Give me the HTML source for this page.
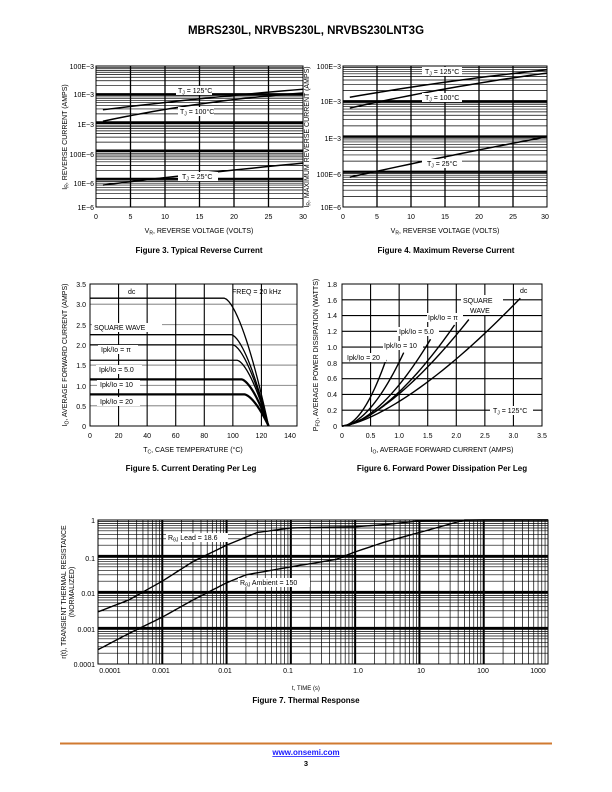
<!DOCTYPE html>
<html><head><meta charset="utf-8">
<style>
html,body{margin:0;padding:0;background:#fff;}
svg{display:block;font-family:"Liberation Sans",Arial,sans-serif;}
.t{font-size:7px;fill:#000;}
.c{font-size:8px;font-weight:bold;fill:#000;}
</style></head>
<body>
<svg id="s" width="612" height="792" viewBox="0 0 612 792" xmlns="http://www.w3.org/2000/svg">
<text x="306" y="34" text-anchor="middle" style="font-size:11.5px;font-weight:bold">MBRS230L, NRVBS230L, NRVBS230LNT3G</text>
<g id="g"></g>
<g id="labels">
<!-- Fig 3 -->
<g class="t" text-anchor="end">
<text x="94" y="69">100E−3</text><text x="94" y="97">10E−3</text><text x="94" y="127">1E−3</text>
<text x="94" y="157">100E−6</text><text x="94" y="186">10E−6</text><text x="94" y="210">1E−6</text>
</g>
<g class="t" text-anchor="middle">
<text x="96" y="219">0</text><text x="130.5" y="219">5</text><text x="165" y="219">10</text><text x="199.5" y="219">15</text><text x="234" y="219">20</text><text x="268.5" y="219">25</text><text x="303" y="219">30</text>
<text x="199" y="233">V<tspan style="font-size:5px" dy="1.5">R</tspan><tspan dy="-1.5">, REVERSE VOLTAGE (VOLTS)</tspan></text>
</g>
<text class="t" transform="translate(67,137) rotate(-90)" text-anchor="middle">I<tspan style="font-size:5px" dy="1.5">R</tspan><tspan dy="-1.5">, REVERSE CURRENT (AMPS)</tspan></text>
<rect x="176" y="86" width="36" height="9" fill="#fff"/><text class="t" x="178" y="93">T<tspan style="font-size:5px" dy="1.5">J</tspan><tspan dy="-1.5"> = 125°C</tspan></text>
<rect x="178" y="107" width="36" height="9" fill="#fff"/><text class="t" x="180" y="114">T<tspan style="font-size:5px" dy="1.5">J</tspan><tspan dy="-1.5"> = 100°C</tspan></text>
<rect x="178" y="172" width="40" height="9" fill="#fff"/><text class="t" x="182" y="179">T<tspan style="font-size:5px" dy="1.5">J</tspan><tspan dy="-1.5"> = 25°C</tspan></text>
<text class="c" x="199" y="253" text-anchor="middle">Figure 3. Typical Reverse Current</text>
<!-- Fig 4 -->
<g class="t" text-anchor="end">
<text x="341" y="69">100E−3</text><text x="341" y="104">10E−3</text><text x="341" y="141">1E−3</text>
<text x="341" y="177">100E−6</text><text x="341" y="210">10E−6</text>
</g>
<g class="t" text-anchor="middle">
<text x="343" y="219">0</text><text x="377" y="219">5</text><text x="411" y="219">10</text><text x="445" y="219">15</text><text x="479" y="219">20</text><text x="513" y="219">25</text><text x="545" y="219">30</text>
<text x="445" y="233">V<tspan style="font-size:5px" dy="1.5">R</tspan><tspan dy="-1.5">, REVERSE VOLTAGE (VOLTS)</tspan></text>
</g>
<text class="t" transform="translate(309,137) rotate(-90)" text-anchor="middle">I<tspan style="font-size:5px" dy="1.5">R</tspan><tspan dy="-1.5">, MAXIMUM REVERSE CURRENT (AMPS)</tspan></text>
<rect x="422" y="67" width="40" height="9" fill="#fff"/><text class="t" x="425" y="74">T<tspan style="font-size:5px" dy="1.5">J</tspan><tspan dy="-1.5"> = 125°C</tspan></text>
<rect x="422" y="93" width="40" height="9" fill="#fff"/><text class="t" x="425" y="100">T<tspan style="font-size:5px" dy="1.5">J</tspan><tspan dy="-1.5"> = 100°C</tspan></text>
<rect x="422" y="159" width="40" height="9" fill="#fff"/><text class="t" x="427" y="166">T<tspan style="font-size:5px" dy="1.5">J</tspan><tspan dy="-1.5"> = 25°C</tspan></text>
<text class="c" x="446" y="253" text-anchor="middle">Figure 4. Maximum Reverse Current</text>
<!-- Fig 5 -->
<g class="t" text-anchor="end">
<text x="86" y="287">3.5</text><text x="86" y="307">3.0</text><text x="86" y="328">2.5</text><text x="86" y="348">2.0</text>
<text x="86" y="368">1.5</text><text x="86" y="389">1.0</text><text x="86" y="409">0.5</text><text x="86" y="429">0</text>
</g>
<g class="t" text-anchor="middle">
<text x="90" y="438">0</text><text x="118.6" y="438">20</text><text x="147.1" y="438">40</text><text x="175.7" y="438">60</text><text x="204.3" y="438">80</text><text x="232.9" y="438">100</text><text x="261.4" y="438">120</text><text x="290" y="438">140</text>
<text x="193" y="452">T<tspan style="font-size:5px" dy="1.5">C</tspan><tspan dy="-1.5">, CASE TEMPERATURE (°C)</tspan></text>
</g>
<text class="t" transform="translate(67,355) rotate(-90)" text-anchor="middle">I<tspan style="font-size:5px" dy="1.5">O</tspan><tspan dy="-1.5">, AVERAGE FORWARD CURRENT (AMPS)</tspan></text>
<text class="t" x="128" y="294">dc</text>
<text class="t" x="232" y="294">FREQ = 20 kHz</text>
<rect x="92" y="323" width="70" height="9" fill="#fff"/><text class="t" x="94" y="330">SQUARE WAVE</text>
<rect x="98" y="345" width="40" height="9" fill="#fff"/><text class="t" x="101" y="352">Ipk/Io = π</text>
<rect x="96" y="365" width="46" height="9" fill="#fff"/><text class="t" x="99" y="372">Ipk/Io = 5.0</text>
<rect x="97" y="380" width="43" height="9" fill="#fff"/><text class="t" x="100" y="387">Ipk/Io = 10</text>
<rect x="97" y="397" width="43" height="9" fill="#fff"/><text class="t" x="100" y="404">Ipk/Io = 20</text>
<text class="c" x="191" y="471" text-anchor="middle">Figure 5. Current Derating Per Leg</text>
<!-- Fig 6 -->
<g class="t" text-anchor="end">
<text x="337" y="287">1.8</text><text x="337" y="303">1.6</text><text x="337" y="318">1.4</text><text x="337" y="334">1.2</text><text x="337" y="350">1.0</text>
<text x="337" y="366">0.8</text><text x="337" y="381">0.6</text><text x="337" y="397">0.4</text><text x="337" y="413">0.2</text><text x="337" y="429">0</text>
</g>
<g class="t" text-anchor="middle">
<text x="342" y="438">0</text><text x="370.6" y="438">0.5</text><text x="399.1" y="438">1.0</text><text x="427.7" y="438">1.5</text><text x="456.3" y="438">2.0</text><text x="484.9" y="438">2.5</text><text x="513.4" y="438">3.0</text><text x="542" y="438">3.5</text>
<text x="442" y="452">I<tspan style="font-size:5px" dy="1.5">O</tspan><tspan dy="-1.5">, AVERAGE FORWARD CURRENT (AMPS)</tspan></text>
</g>
<text class="t" transform="translate(318,355) rotate(-90)" text-anchor="middle">P<tspan style="font-size:5px" dy="1.5">FO</tspan><tspan dy="-1.5">, AVERAGE POWER DISSIPATION (WATTS)</tspan></text>
<rect x="519" y="286" width="12" height="9" fill="#fff"/><text class="t" x="520" y="293">dc</text>
<rect x="461" y="295" width="42" height="20" fill="#fff"/><text class="t" x="463" y="303">SQUARE</text><text class="t" x="470" y="313">WAVE</text>
<rect x="427" y="313" width="36" height="9" fill="#fff"/><text class="t" x="428" y="320">Ipk/Io = π</text>
<rect x="397" y="327" width="42" height="9" fill="#fff"/><text class="t" x="399" y="334">Ipk/Io = 5.0</text>
<rect x="383" y="341" width="40" height="9" fill="#fff"/><text class="t" x="384" y="348">Ipk/Io = 10</text>
<rect x="346" y="353" width="40" height="9" fill="#fff"/><text class="t" x="347" y="360">Ipk/Io = 20</text>
<rect x="490" y="406" width="43" height="9" fill="#fff"/><text class="t" x="493" y="413">T<tspan style="font-size:5px" dy="1.5">J</tspan><tspan dy="-1.5"> = 125°C</tspan></text>
<text class="c" x="442" y="471" text-anchor="middle">Figure 6. Forward Power Dissipation Per Leg</text>
<!-- Fig 7 -->
<g class="t" text-anchor="end">
<text x="95" y="523">1</text><text x="95" y="561">0.1</text><text x="95" y="596">0.01</text><text x="95" y="632">0.001</text><text x="95" y="667">0.0001</text>
</g>
<g class="t" text-anchor="middle">
<text x="110" y="673">0.0001</text><text x="161" y="673">0.001</text><text x="225" y="673">0.01</text><text x="288" y="673">0.1</text><text x="358" y="673">1.0</text><text x="421" y="673">10</text><text x="483" y="673">100</text><text x="538" y="673">1000</text>
<text x="306" y="690" style="font-size:6px">t, TIME (s)</text>
</g>
<text class="t" transform="translate(66,592) rotate(-90)" text-anchor="middle">r(t), TRANSIENT THERMAL RESISTANCE</text>
<text class="t" transform="translate(74,592) rotate(-90)" text-anchor="middle">(NORMALIZED)</text>
<rect x="166" y="533" width="62" height="9" fill="#fff"/><text class="t" x="168" y="540">R<tspan style="font-size:5px" dy="1.5">θJ</tspan><tspan dy="-1.5"> Lead = 18.6</tspan></text>
<rect x="238" y="578" width="72" height="9" fill="#fff"/><text class="t" x="240" y="585">R<tspan style="font-size:5px" dy="1.5">θJ</tspan><tspan dy="-1.5"> Ambient = 150</tspan></text>
<text class="c" x="306" y="703" text-anchor="middle">Figure 7. Thermal Response</text>
</g>
<line x1="60" y1="743.5" x2="552" y2="743.5" stroke="#d07a30" stroke-width="2"/>
<text x="306" y="755" text-anchor="middle" style="font-size:8px;font-weight:bold;fill:#1a1aff;text-decoration:underline">www.onsemi.com</text>
<text x="306" y="766" text-anchor="middle" style="font-size:7.5px;font-weight:bold">3</text>
</svg>
<script>
(function(){
var NS="http://www.w3.org/2000/svg",g=document.getElementById("g");
function L(x1,y1,x2,y2,w,c){var e=document.createElementNS(NS,"line");e.setAttribute("x1",x1);e.setAttribute("y1",y1);e.setAttribute("x2",x2);e.setAttribute("y2",y2);e.setAttribute("stroke",c||"#000");e.setAttribute("stroke-width",w);g.appendChild(e);}
function P(pts,w,c){var e=document.createElementNS(NS,"polyline");e.setAttribute("points",pts.map(function(p){return p[0].toFixed(2)+","+p[1].toFixed(2)}).join(" "));e.setAttribute("fill","none");e.setAttribute("stroke",c||"#000");e.setAttribute("stroke-width",w);e.setAttribute("stroke-linejoin","round");g.appendChild(e);}
function R(x,y,w,h){var e=document.createElementNS(NS,"rect");e.setAttribute("x",x);e.setAttribute("y",y);e.setAttribute("width",w);e.setAttribute("height",h);e.setAttribute("fill","none");e.setAttribute("stroke","#000");e.setAttribute("stroke-width",1);g.appendChild(e);}
function logGridY(x0,x1,ybot,dpx,nd){for(var d=0;d<nd;d++){for(var k=1;k<=9;k++){var y=ybot-(d+Math.log10(k))*dpx;L(x0,y,x1,y,k==1&&d>0?2.2:0.7);}}}
// Fig3
var f3x=function(v){return 96+v*207/30},f3y=function(I){return 207-(Math.log10(I)+6)*141/5};
logGridY(96,303,207,141/5,5);
for(var v=5;v<30;v+=5)L(f3x(v),66,f3x(v),207,1.3);
R(96,66,207,141);
function lc(fx,fy,a,b,n,cv){var p=[];for(var i=0;i<=20;i++){var v=1+29*i/20,t=i/20;var l=Math.log10(a)+(Math.log10(b)-Math.log10(a))*t+cv*Math.sin(Math.PI*t)*0+cv*(t*(1-t));p.push([fx(v),fy(Math.pow(10,l))]);}P(p,1.5);}
lc(f3x,f3y,2.8e-3,15e-3,0,0.15);
lc(f3x,f3y,1.1e-3,11e-3,0,0.5);
lc(f3x,f3y,6e-6,36e-6,0,0.1);
// Fig4
var f4x=function(v){return 343+v*204/30},f4y=function(I){return 207-(Math.log10(I)+5)*141/4};
logGridY(343,547,207,141/4,4);
for(var v=5;v<30;v+=5)L(f4x(v),66,f4x(v),207,1.3);
R(343,66,204,141);
lc(f4x,f4y,13e-3,78e-3,0,0.2);
lc(f4x,f4y,6.4e-3,63e-3,0,0.25);
lc(f4x,f4y,70e-6,0.98e-3,0,0.1);
// Fig5
var f5x=function(t){return 90+t*200/140},f5y=function(i){return 426-i*142/3.5};
for(var i=0.5;i<3.5;i+=0.5)L(90,f5y(i),297,f5y(i),1.2,"#999");
for(var t=20;t<=120;t+=20)L(f5x(t),284,f5x(t),426,1.1);
R(90,284,207,142);
[[3.15,94,1],[2.25,99,1],[2.0,100,1],[1.62,103,1],[1.15,106,2],[0.78,108,2]].forEach(function(c){
 var p=[[f5x(0),f5y(c[0])],[f5x(c[1]),f5y(c[0])]];
 for(var k=1;k<=20;k++){var s=k/20;var T=c[1]+(125-c[1])*s;var I=c[0]*(1-Math.pow(s,1.6));p.push([f5x(T),f5y(I)]);}
 P(p,c[2]==2?2.2:1.3);});
// Fig6
var f6x=function(I){return 342+I*200/3.5},f6y=function(p){return 426-p*142/1.8};
for(var I=0.5;I<3.5;I+=0.5)L(f6x(I),284,f6x(I),426,1.1);
for(var q=0.2;q<1.79;q+=0.2)L(342,f6y(q),542,f6y(q),1.1);
R(342,284,200,142);
[[0.77,0.84,1.9],[1.08,0.93,1.8],[1.55,1.1,1.7],[1.97,1.28,1.6],[2.22,1.35,1.5],[3.12,1.62,1.45]].forEach(function(c){
 var p=[];for(var k=0;k<=30;k++){var I=c[0]*k/30;p.push([f6x(I),f6y(c[1]*Math.pow(I/c[0],c[2]))]);}P(p,1.4);});
// Fig7
var f7x=function(t){return 98+(Math.log10(t)+4)*450/7},f7y=function(r){return 664-(Math.log10(r)+4)*36};
logGridY(98,548,664,36,4);
for(var d=0;d<7;d++)for(var k=1;k<=9;k++){var x=98+(d+Math.log10(k))*450/7;L(x,520,x,664,k==1&&d>0?2:0.7);}
R(98,520,450,144);
function tc(pts){var p=[];for(var i=0;i<pts.length-1;i++){var a=pts[i],b=pts[i+1];for(var k=0;k<10;k++){var s=k/10;var lt=Math.log10(a[0])+(Math.log10(b[0])-Math.log10(a[0]))*s;var lr=Math.log10(a[1])+(Math.log10(b[1])-Math.log10(a[1]))*s;p.push([f7x(Math.pow(10,lt)),f7y(Math.pow(10,lr))]);}}var z=pts[pts.length-1];p.push([f7x(z[0]),f7y(z[1])]);P(p,1.4);}
tc([[1e-4,0.0028],[3e-4,0.006],[1e-3,0.02],[3e-3,0.07],[1e-2,0.2],[3e-2,0.45],[0.1,0.6],[1,0.65],[3,0.75],[10,0.95],[100,1],[1000,1]]);
tc([[1e-4,0.00025],[3e-4,0.0007],[1e-3,0.002],[3e-3,0.006],[1e-2,0.018],[2e-2,0.03],[0.1,0.05],[0.5,0.08],[1,0.13],[3,0.25],[10,0.45],[50,1],[1000,1]]);
// move labels on top
var lab=document.getElementById("labels");lab.parentNode.appendChild(lab);
})();
</script>
</body></html>
